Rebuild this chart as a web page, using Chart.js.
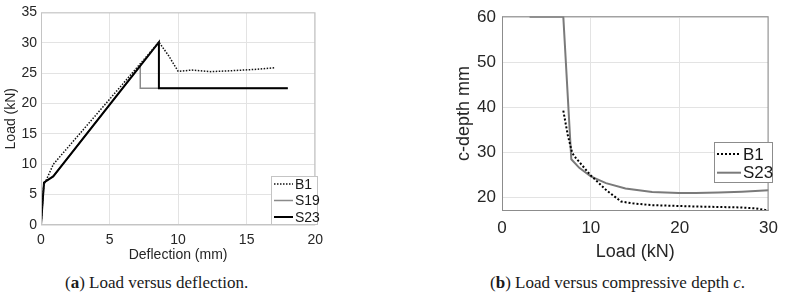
<!DOCTYPE html>
<html>
<head>
<meta charset="utf-8">
<script src="https://cdn.jsdelivr.net/npm/chart.js@4.4.1/dist/chart.umd.min.js"></script>
<style>
  body { margin: 0; background: #fff; width: 785px; height: 294px; position: relative; overflow: hidden; }
  canvas { position: absolute; top: 0; }
  .cap { position: absolute; top: 273px; font-family: "Liberation Serif", serif; font-size: 17px; color: #1a1a1a; white-space: nowrap; }
</style>
</head>
<body>
<canvas id="chartA" width="330" height="266" style="left:0"></canvas>
<canvas id="chartB" width="365" height="266" style="left:420px"></canvas>
<div class="cap" style="left:65px">(<b>a</b>) Load versus deflection.</div>
<div class="cap" style="left:490px">(<b>b</b>) Load versus compressive depth <i>c</i>.</div>
<script>
// (a) load vs deflection
const b1DefX  = [0, 0.2, 0.3, 0.9, 8.6, 9.3, 10.0, 11.0, 12.4, 13.9, 15.5, 17.1];
const b1DefY  = [0, 6.5, 7.0, 10.0, 30.1, 27.9, 25.3, 25.5, 25.25, 25.4, 25.6, 25.9];
const s19DefX = [0, 0.22, 0.89, 7.24, 7.24, 18];
const s19DefY = [0, 7.0, 8.0, 26.3, 22.5, 22.5];
const s23DefX = [0, 0.22, 0.89, 8.6, 8.6, 18];
const s23DefY = [0, 7.0, 8.0, 30.1, 22.5, 22.5];
const defTicksX = [0, 5, 10, 15, 20];
const defTicksY = [0, 5, 10, 15, 20, 25, 30, 35];

// (b) load vs c-depth
const b1LoadX  = [6.9, 7.4, 7.9, 8.3, 10.0, 11.7, 13.4, 14.7, 16.9, 21.8, 26.6, 28.5, 30];
const b1DepthY = [39.3, 33.9, 29.9, 28.8, 24.9, 21.7, 19.1, 18.7, 18.3, 18.0, 17.8, 17.6, 17.1];
const s23LoadX  = [3.1, 6.9, 7.8, 8.7, 10.0, 11.7, 13.9, 16.9, 19.9, 21.8, 24.4, 27, 30];
const s23DepthY = [60.2, 60.2, 28.5, 26.6, 24.7, 23.2, 22.0, 21.2, 21.0, 21.0, 21.1, 21.3, 21.6];
const depthTicksX = [0, 10, 20, 30];
const depthTicksY = [20, 30, 40, 50, 60];

const pts = (xs, ys) => xs.map((x, i) => ({ x: x, y: ys[i] }));

// matlab style box + legend
const boxLegend = {
  id: 'boxLegend',
  afterDraw(chart, args, opts) {
    const ctx = chart.ctx;
    const a = chart.chartArea;
    ctx.save();
    ctx.strokeStyle = opts.boxColor;
    ctx.lineWidth = 1;
    ctx.strokeRect(a.left + 0.5, a.top + 0.5, a.right - a.left - 1, a.bottom - a.top - 1);
    const L = opts.legend;
    ctx.fillStyle = '#fff';
    ctx.fillRect(L.x, L.y, L.w, L.h);
    ctx.strokeStyle = L.border;
    ctx.strokeRect(L.x + 0.5, L.y + 0.5, L.w - 1, L.h - 1);
    ctx.font = L.font;
    ctx.textBaseline = 'middle';
    L.items.forEach((it, i) => {
      const y = L.y + L.first + i * L.gap;
      ctx.beginPath();
      ctx.setLineDash(it.dash);
      ctx.strokeStyle = it.color;
      ctx.lineWidth = it.width;
      ctx.moveTo(L.x + 3, y);
      ctx.lineTo(L.x + 3 + L.line, y);
      ctx.stroke();
      ctx.setLineDash([]);
      ctx.fillStyle = '#1a1a1a';
      ctx.fillText(it.text, L.x + 5 + L.line, y + 1);
    });
    ctx.restore();
  }
};

const gridCol = '#e3e3e3';

new Chart(document.getElementById('chartA'), {
  type: 'scatter',
  data: {
    datasets: [
      { label: 'B1', data: pts(b1DefX, b1DefY), borderColor: '#111', borderWidth: 1.5, borderDash: [1.5, 1.5] },
      { label: 'S23', data: pts(s23DefX, s23DefY), borderColor: '#000', borderWidth: 2 },
      { label: 'S19', data: pts(s19DefX, s19DefY), borderColor: '#8a8a8a', borderWidth: 1.5 }
    ]
  },
  options: {
    responsive: false,
    animation: false,
    showLine: true,
    elements: { point: { radius: 0 }, line: { tension: 0 } },
    layout: { padding: { top: 10, right: 12, left: 0, bottom: 0 } },
    plugins: {
      legend: { display: false },
      tooltip: { enabled: false },
      boxLegend: {
        boxColor: '#c4c4c4',
        legend: {
          x: 271, y: 176, w: 47, h: 49, first: 8, gap: 16.5, line: 19,
          font: '14px "Liberation Sans", Arial, sans-serif', border: '#c4c4c4',
          items: [
            { text: 'B1', color: '#111', width: 1.5, dash: [1.5, 1.5] },
            { text: 'S19', color: '#8a8a8a', width: 1.5, dash: [] },
            { text: 'S23', color: '#000', width: 2, dash: [] }
          ]
        }
      }
    },
    scales: {
      x: {
        type: 'linear', min: 0, max: 20,
        afterFit: s => { s.height = 41; },
        afterBuildTicks: s => { s.ticks = defTicksX.map(v => ({ value: v })); },
        grid: { color: gridCol, drawTicks: false },
        border: { display: false },
        ticks: { padding: 7, color: '#262626', font: { family: '"Liberation Sans", Arial', size: 14 } },
        title: { display: true, text: 'Deflection (mm)', color: '#262626', padding: { top: 0, bottom: 2 },
                 font: { family: '"Liberation Sans", Arial', size: 14 } }
      },
      y: {
        type: 'linear', min: 0, max: 35,
        afterFit: s => { s.width = 41; },
        afterBuildTicks: s => { s.ticks = defTicksY.map(v => ({ value: v })); },
        grid: { color: gridCol, drawTicks: false },
        border: { display: false },
        ticks: { padding: 4, color: '#262626', font: { family: '"Liberation Sans", Arial', size: 14 } },
        title: { display: true, text: 'Load (kN)', color: '#262626', padding: { top: 3, bottom: 0 },
                 font: { family: '"Liberation Sans", Arial', size: 14 } }
      }
    }
  },
  plugins: [boxLegend]
});

new Chart(document.getElementById('chartB'), {
  type: 'scatter',
  data: {
    datasets: [
      { label: 'B1', data: pts(b1LoadX, b1DepthY), borderColor: '#000', borderWidth: 2, borderDash: [2, 2] },
      { label: 'S23', data: pts(s23LoadX, s23DepthY), borderColor: '#7a7a7a', borderWidth: 2 }
    ]
  },
  options: {
    responsive: false,
    animation: false,
    showLine: true,
    elements: { point: { radius: 0 }, line: { tension: 0 } },
    layout: { padding: { top: 12, right: 13, left: 33, bottom: 0 } },
    plugins: {
      legend: { display: false },
      tooltip: { enabled: false },
      boxLegend: {
        boxColor: '#8c8c8c',
        legend: {
          x: 294, y: 142, w: 59, h: 41, first: 12, gap: 18.7, line: 24,
          font: '17px "Liberation Sans", Arial, sans-serif', border: '#8c8c8c',
          items: [
            { text: 'B1', color: '#000', width: 2, dash: [2, 2] },
            { text: 'S23', color: '#7a7a7a', width: 2, dash: [] }
          ]
        }
      }
    },
    scales: {
      x: {
        type: 'linear', min: 0, max: 30,
        afterFit: s => { s.height = 55; },
        afterBuildTicks: s => { s.ticks = depthTicksX.map(v => ({ value: v })); },
        grid: { color: gridCol, drawTicks: false },
        border: { display: false },
        ticks: { padding: 7, color: '#262626', font: { family: '"Liberation Sans", Arial', size: 17 } },
        title: { display: true, text: 'Load (kN)', color: '#262626', padding: { top: 0, bottom: 3 },
                 font: { family: '"Liberation Sans", Arial', size: 18 } }
      },
      y: {
        type: 'linear', min: 17, max: 60.3,
        afterFit: s => { s.width = 49; },
        afterBuildTicks: s => { s.ticks = depthTicksY.map(v => ({ value: v })); },
        grid: { color: gridCol, drawTicks: false },
        border: { display: false },
        ticks: { padding: 6, color: '#262626', font: { family: '"Liberation Sans", Arial', size: 17 } },
        title: { display: true, text: 'c-depth mm', color: '#262626', padding: { top: 0, bottom: 0 },
                 font: { family: '"Liberation Sans", Arial', size: 18 } }
      }
    }
  },
  plugins: [boxLegend]
});
</script>
</body>
</html>
